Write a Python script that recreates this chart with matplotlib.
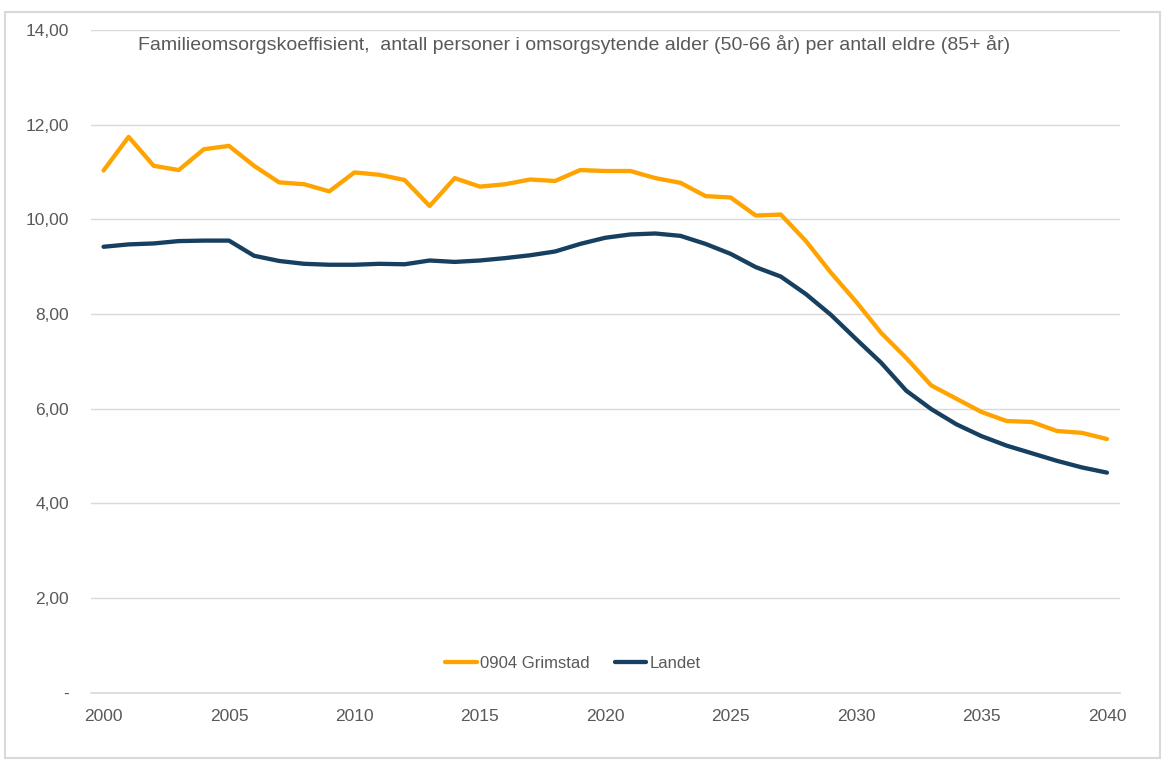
import matplotlib
matplotlib.use("Agg")
import matplotlib.pyplot as plt
from matplotlib.ticker import FuncFormatter
from matplotlib.patches import Rectangle

years = list(range(2000, 2041))
grimstad = [11.03, 11.74, 11.13, 11.04, 11.48, 11.55, 11.13, 10.78, 10.74, 10.59,
            10.99, 10.94, 10.83, 10.28, 10.87, 10.69, 10.74, 10.84, 10.81, 11.04,
            11.02, 11.02, 10.87, 10.77, 10.49, 10.46, 10.08, 10.10, 9.54, 8.87,
            8.26, 7.60, 7.07, 6.49, 6.21, 5.93, 5.74, 5.72, 5.53, 5.49, 5.36]
landet = [9.42, 9.47, 9.49, 9.54, 9.55, 9.55, 9.23, 9.12, 9.06, 9.04,
          9.04, 9.06, 9.05, 9.13, 9.10, 9.13, 9.18, 9.24, 9.32, 9.48,
          9.61, 9.68, 9.70, 9.65, 9.48, 9.27, 8.99, 8.79, 8.42, 7.98,
          7.47, 6.97, 6.38, 5.99, 5.67, 5.42, 5.22, 5.06, 4.90, 4.76, 4.65]
series_names = ["0904 Grimstad", "Landet"]
title = "Familieomsorgskoeffisient,  antall personer i omsorgsytende alder (50-66 år) per antall eldre (85+ år)"
yticks = [0, 2, 4, 6, 8, 10, 12, 14]
xticks = [2000, 2005, 2010, 2015, 2020, 2025, 2030, 2035, 2040]

plt.rcParams['font.family'] = ['Liberation Sans', 'DejaVu Sans']
txt = '#595959'
W, H = 1173, 761
fig = plt.figure(figsize=(W / 100, H / 100), dpi=100)

# outer frame
fig.patches.append(Rectangle((5 / W, 1 - 758 / H), (1160 - 5) / W, (758 - 12) / H,
                             transform=fig.transFigure, fill=False,
                             edgecolor='#d9d9d9', lw=1.5))

left, right = 91 / W, 1119.5 / W
bottom, top = 1 - 692.8 / H, 1 - 29.9 / H
ax = fig.add_axes([left, bottom, right - left, top - bottom])

ax.plot(years, grimstad, color='#FFA300', lw=3.1, label=series_names[0],
        solid_capstyle='round', solid_joinstyle='round')
ax.plot(years, landet, color='#173F5F', lw=3.1, label=series_names[1],
        solid_capstyle='round', solid_joinstyle='round')

ax.set_xlim(1999.5, 2040.5)
ax.set_ylim(0, 14)
ax.set_yticks(yticks)
ax.set_xticks(xticks)
ax.yaxis.set_major_formatter(FuncFormatter(lambda v, p: '-' if v == 0 else f"{v:.2f}".replace('.', ',')))
ax.grid(axis='y', color='#d9d9d9', lw=1)
ax.axhline(0, color='#d9d9d9', lw=1.2, clip_on=False, zorder=0)
ax.set_axisbelow(True)
for s in ax.spines.values():
    s.set_visible(False)
ax.tick_params(axis='both', length=0, labelsize=12.5, colors=txt)
ax.tick_params(axis='y', pad=16)
ax.tick_params(axis='x', pad=12)

fig.text(138 / W, 1 - 45 / H, title, ha='left', va='center', fontsize=14, color=txt)

leg = fig.legend(loc='center', bbox_to_anchor=(573 / W, 1 - 663 / H), ncol=2,
                 frameon=False, fontsize=12, handlelength=1.9, handletextpad=0.2,
                 columnspacing=1.5, labelcolor=txt)

fig.savefig('out.png', dpi=100, facecolor='white')
